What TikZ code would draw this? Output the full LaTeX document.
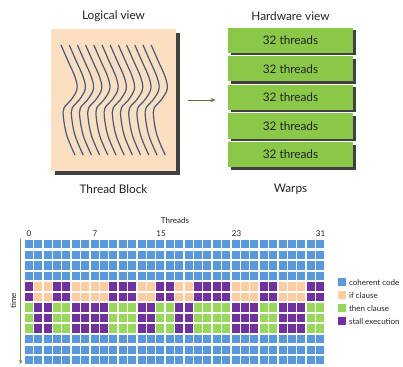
\documentclass[tikz,border=0pt]{standalone}
\usepackage{fontspec}
\setmainfont{Lato}
\usetikzlibrary{arrows.meta,shadows}
\definecolor{cblue}{RGB}{88,152,222}
\definecolor{cpeach}{RGB}{255,204,160}
\definecolor{cgreen}{RGB}{152,216,88}
\definecolor{cpurple}{RGB}{112,48,160}
\definecolor{blockbg}{RGB}{252,222,192}
\definecolor{wavecol}{RGB}{62,92,130}
\definecolor{warpgreen}{RGB}{140,200,72}
\definecolor{shadowgray}{RGB}{64,64,64}
\definecolor{olivearrow}{RGB}{95,110,55}
\definecolor{timeline}{RGB}{125,140,85}
\definecolor{txt}{RGB}{35,35,35}
\begin{document}
\begin{tikzpicture}[x=1pt,y=-1pt,
  biglabel/.style={font=\fontsize{11.8}{13}\selectfont, text=txt, inner sep=0pt},
  smalllabel/.style={font=\fontsize{8}{9.5}\selectfont, text=txt, inner sep=0pt},
  warpbox/.style={fill=warpgreen, minimum width=125pt, minimum height=25pt, inner sep=0pt,
    font=\fontsize{11.8}{13}\selectfont, text=txt,
    drop shadow={shadow xshift=2.5pt, shadow yshift=-2.5pt, fill=shadowgray, opacity=1}},
  wave/.style={draw=wavecol, line width=1.2pt},
  cellbox/.style={inner sep=0pt, minimum width=8pt, minimum height=8.4pt, anchor=north west}]
\useasboundingbox (0,0) rectangle (403,366);

% ---------- logical view ----------
\node[biglabel] (lv) at (113.5,16) {Logical view};
\fill[shadowgray] (55,33) rectangle (180,175);
\node[fill=blockbg, minimum width=125pt, minimum height=142pt, inner sep=0pt, anchor=north west] (block) at (51,29) {};
\foreach \j in {0,...,11}{
  \draw[wave, xshift=\j*8.2pt] plot[smooth, tension=0.6] coordinates
    {(61,45) (68,61) (75,77) (77,89) (71,100) (64,108) (63.5,118) (67,136) (75,155)};
}
\node[biglabel] (tb) at (113.5,189) {Thread Block};

% ---------- hardware view ----------
\node[biglabel] (hv) at (290.5,16) {Hardware view};
\foreach \k in {1,...,5}{
  \node[warpbox] (w\k) at (290.5,{40.2+(\k-1)*28.6}) {32 threads};
}
\node[biglabel] (wp) at (290.5,189) {Warps};
\coordinate (astart) at (188,100);
\coordinate (aend) at (215.5,100);
\draw[olivearrow, line width=0.9pt, -{Stealth[length=5pt,width=4pt]}] (astart) -- (aend);

% ---------- grid ----------
\node[smalllabel] (thr) at (175,221) {Threads};
\node[smalllabel] (n0) at (29,234) {0};
\node[smalllabel] (n7) at (95,234) {7};
\node[smalllabel] (n15) at (161,234) {15};
\node[smalllabel] (n23) at (236.5,234) {23};
\node[smalllabel] (n31) at (320.5,234) {31};

\foreach \r in {0,1,2,3,9,10,11}{
  \foreach \i in {0,...,31}{
    \fill[cblue] ({24.7+9.4*\i},{240+10.55*\r}) rectangle ++(8,8.4);
  }
}
\foreach \c [count=\n from 0] in {1,0,0,1,1,0,0,0,0,1,1,1,0,0,1,1,0,0,1,1,1,1,0,0,0,1,1,0,0,0,1,1}{
  \ifnum\c=1
    \foreach \r in {4,5}{\fill[cpurple] ({24.7+9.4*\n},{240+10.55*\r}) rectangle ++(8,8.4);}
    \foreach \r in {6,7,8}{\fill[cgreen] ({24.7+9.4*\n},{240+10.55*\r}) rectangle ++(8,8.4);}
  \else
    \foreach \r in {4,5}{\fill[cpeach] ({24.7+9.4*\n},{240+10.55*\r}) rectangle ++(8,8.4);}
    \foreach \r in {6,7,8}{\fill[cpurple] ({24.7+9.4*\n},{240+10.55*\r}) rectangle ++(8,8.4);}
  \fi
}

% time axis
\coordinate (tstart) at (20.7,239);
\coordinate (tend) at (20.7,364);
\draw[timeline, line width=0.9pt, -{Stealth[length=4pt,width=3.5pt]}] (tstart) -- (tend);
\node[smalllabel, rotate=90] (time) at (13.3,301) {time};

% legend
\node[cellbox, fill=cblue, minimum height=8pt, minimum width=8.5pt] (l1) at (337.5,278) {};
\node[cellbox, fill=cpeach, minimum height=8pt, minimum width=8.5pt] (l2) at (337.5,291) {};
\node[cellbox, fill=cgreen, minimum height=8pt, minimum width=8.5pt] (l3) at (337.5,304) {};
\node[cellbox, fill=cpurple, minimum height=8pt, minimum width=8.5pt] (l4) at (337.5,317) {};
\node[smalllabel, anchor=west] (t1) at ([xshift=2.5pt]l1.east) {coherent code};
\node[smalllabel, anchor=west] (t2) at ([xshift=2.5pt]l2.east) {if clause};
\node[smalllabel, anchor=west] (t3) at ([xshift=2.5pt]l3.east) {then clause};
\node[smalllabel, anchor=west] (t4) at ([xshift=2.5pt]l4.east) {stall execution};
\end{tikzpicture}
\end{document}
